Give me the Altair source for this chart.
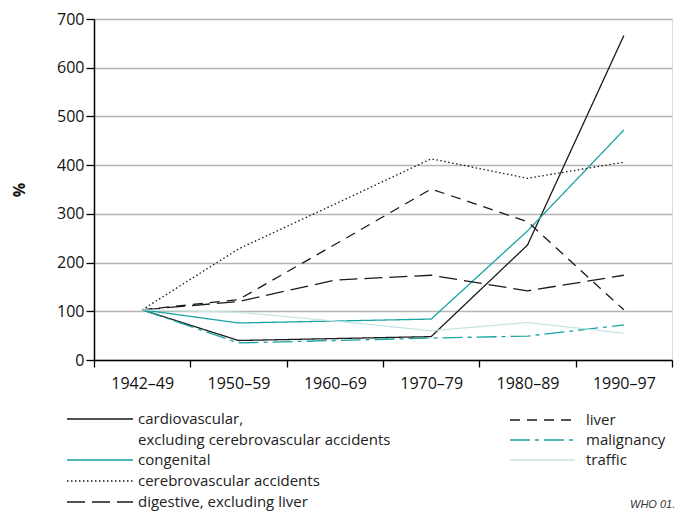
import altair as alt
import pandas as pd

# ---- data ----
periods = ["1942–49", "1950–59", "1960–69", "1970–79", "1980–89", "1990–97"]

series_names = [
    "cardiovascular, excluding cerebrovascular accidents",
    "congenital",
    "cerebrovascular accidents",
    "digestive, excluding liver",
    "liver",
    "malignancy",
    "traffic",
]
legend_labels = [
    "cardiovascular,\nexcluding cerebrovascular accidents",
    "congenital",
    "cerebrovascular accidents",
    "digestive, excluding liver",
    "liver",
    "malignancy",
    "traffic",
]

cardiovascular = [103, 40, 44, 48, 236, 666]
congenital = [103, 76, 80, 84, 265, 472]
cerebrovascular = [103, 228, 320, 413, 373, 406]
digestive = [103, 120, 164, 174, 142, 174]
liver = [103, 124, 237, 351, 284, 103]
malignancy = [103, 35, 40, 45, 49, 72]
traffic = [103, 98, 80, 60, 77, 55]

series_values = [cardiovascular, congenital, cerebrovascular, digestive,
                 liver, malignancy, traffic]

colors = ["#1a1a1a", "#1aa3a3", "#1a1a1a", "#1a1a1a", "#1a1a1a", "#1aa3a3", "#c6e6e6"]
dashes = [[1, 0], [1, 0], [1.5, 2.5], [18, 7], [10, 7], [20, 5, 4, 5], [1, 0]]

# ---- build tables ----
rows = []
for name, vals in zip(series_names, series_values):
    for p, v in zip(periods, vals):
        rows.append({"series": name, "period": p, "value": v})
df = pd.DataFrame(rows)

# legend layout (pixels relative to plot origin)
ox, oy = 94, 19
col1 = dict(x0=67, x1=133, tx=138)
col2 = dict(x0=510, x1=575, tx=586)
row_y = [419, 460, 481, 502, 420, 440, 460]
lh = 20.5
leg_rows = []
for i, (name, lab) in enumerate(zip(series_names, legend_labels)):
    c = col1 if i < 4 else col2
    yline = row_y[i]
    leg_rows.append({
        "series": name,
        "label": lab,
        "lx": c["x0"] - ox,
        "lx2": c["x1"] - ox,
        "ly": yline - oy,
        "tx": c["tx"] - ox,
        "ty": yline - oy,
    })
df_leg = pd.DataFrame(leg_rows)

color_enc = alt.Color("series:N", scale=alt.Scale(domain=series_names, range=colors), legend=None)
dash_enc = alt.StrokeDash("series:N", scale=alt.Scale(domain=series_names, range=dashes), legend=None)

FONT = "Open Sans"

lines = alt.Chart(df).mark_line(strokeWidth=1.3).encode(
    x=alt.X(
        "period:O",
        scale=alt.Scale(type="band", domain=periods, paddingInner=0, paddingOuter=0),
        bandPosition=0.5,
        axis=alt.Axis(
            title=None, tickBand="extent", labelAngle=0, grid=False,
            domainColor="#000", domainWidth=1.5, tickColor="#000", tickWidth=1.3,
            tickSize=7, labelFontSize=16, labelFont=FONT, labelColor="#111",
            labelPadding=8,
        ),
    ),
    y=alt.Y(
        "value:Q",
        scale=alt.Scale(domain=[0, 700], nice=False),
        axis=alt.Axis(
            values=list(range(0, 701, 100)), title="%", titleFontWeight="bold",
            titleFontSize=16, titleFont=FONT, titleX=-67, titleColor="#111",
            grid=True, gridColor="#b4b4b4", gridWidth=1.3,
            domainColor="#000", domainWidth=1.5, tickColor="#000", tickWidth=1.3,
            tickSize=8, labelFontSize=16, labelFont=FONT, labelColor="#111",
            labelPadding=2,
        ),
    ),
    color=color_enc,
    strokeDash=dash_enc,
    detail="series:N",
)

leg_lines = alt.Chart(df_leg).mark_rule(strokeWidth=1.3).encode(
    x=alt.X("lx:Q", scale=None, axis=None),
    x2="lx2:Q",
    y=alt.Y("ly:Q", scale=None, axis=None),
    color=color_enc,
    strokeDash=dash_enc,
)

leg_text = alt.Chart(df_leg).mark_text(
    align="left", baseline="middle", fontSize=15, font=FONT,
    lineBreak="\n", lineHeight=lh, color="#222",
).encode(
    x=alt.X("tx:Q", scale=None, axis=None),
    y=alt.Y("ty:Q", scale=None, axis=None),
    text="label:N",
)

note = alt.Chart(pd.DataFrame({"t": ["WHO 01."], "nx": [630 - ox], "ny": [505 - oy]})).mark_text(
    align="left", baseline="middle", fontSize=11, font="Liberation Sans",
    fontStyle="italic", color="#333",
).encode(
    x=alt.X("nx:Q", scale=None, axis=None),
    y=alt.Y("ny:Q", scale=None, axis=None),
    text="t:N",
)

chart = alt.layer(lines, leg_lines, leg_text, note).resolve_scale(
    x="independent", y="independent"
).properties(
    width=578, height=341,
    autosize=alt.AutoSizeParams(type="none"),
    padding={"left": 86, "top": 11, "right": 4, "bottom": 152},
).configure_view(
    stroke="#222", strokeWidth=1.5
).configure(background="white")

chart.save("out.html", embed_options={"renderer": "svg", "actions": False})
